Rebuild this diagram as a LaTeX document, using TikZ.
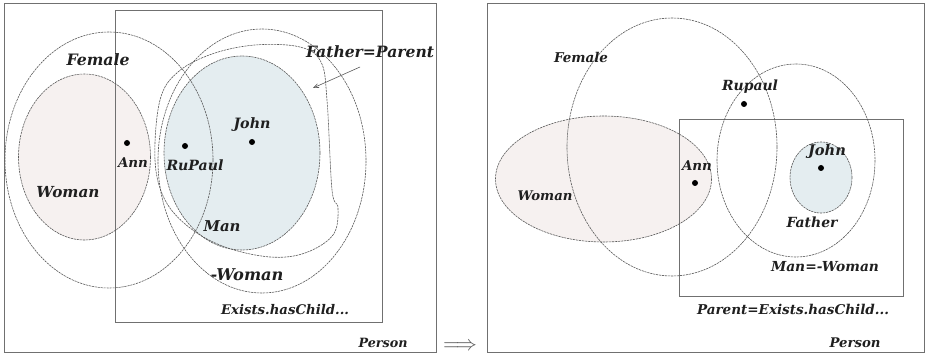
\documentclass[tikz,border=0pt]{standalone}
\usepackage{fontspec}
\setmainfont{DejaVu Serif}
\usetikzlibrary{arrows.meta}
\definecolor{lineg}{HTML}{5A5A5A}
\definecolor{boxg}{HTML}{707070}
\definecolor{pinkf}{HTML}{F6F1F0}
\definecolor{bluef}{HTML}{E4EDF0}
\newcommand\fitw[2]{\resizebox{#1pt}{!}{#2}}
\begin{document}
\begin{tikzpicture}[x=1pt,y=-1pt,
  lbl/.style={font=\fontsize{14}{14}\selectfont\bfseries\itshape, inner sep=0pt, text=black!88},
  setline/.style={draw=lineg, line width=0.6pt, dash pattern=on 2.2pt off 0.8pt},
  boxline/.style={draw=boxg, line width=0.8pt},
  dot/.style={circle, fill=black, inner sep=0pt, minimum size=6pt}]
\useasboundingbox (0,0) rectangle (928,358);

% ---------- left panel ----------
\fill[pinkf] (84.5,157) ellipse [x radius=66, y radius=83];
\fill[bluef] (242,153) ellipse [x radius=78, y radius=97];
\draw[boxline] (4,3) rectangle (436,352);
\draw[boxline] (115,10) rectangle (382,322);
\draw[setline] (109,160) ellipse [x radius=104, y radius=128];
\draw[setline] (84.5,157) ellipse [x radius=66, y radius=83];
\draw[setline] (262,161) ellipse [x radius=104, y radius=132];
\draw[setline] (242,153) ellipse [x radius=78, y radius=97];
\draw[setline] plot[smooth cycle, tension=0.6] coordinates {
  (160,100) (178,72) (212,54) (255,45) (300,47) (321,62) (327,100)
  (332,190) (338,208) (333,235) (305,253) (270,257) (225,247)
  (190,228) (165,200) (155,160)};

\node[dot] (annD) at (127,143) {};
\node[dot] (rpD) at (185,146) {};
\node[dot] (johnD) at (252,142) {};

\node[lbl] (femL) at (98,60) {\fitw{63}{Female}};
\node[lbl] (womL) at (68,192) {\fitw{63}{Woman}};
\node[lbl] (manL) at (222,226) {\fitw{37}{Man}};
\node[lbl] (nwomL) at (247,275) {\fitw{73}{-Woman}};
\node[lbl] (fpL) at (370,52) {\fitw{128}{Father=Parent}};
\node[lbl] (exL) at (285,310) {\fitw{128}{Exists.hasChild...}};
\node[lbl] (perL) at (383,343) {\fitw{49}{Person}};
\node[lbl] (annL) at (133,163) {\fitw{30}{Ann}};
\node[lbl] (rpL) at (195,165) {\fitw{57}{RuPaul}};
\node[lbl] (johnL) at (252,125) {\fitw{37}{John}};

\coordinate (fpA) at (360,67);
\coordinate (fpB) at (313,88);
\draw[lineg, line width=0.6pt, -{Straight Barb[length=5pt,width=4pt]}] (fpA) -- (fpB);

% ---------- implication ----------
\node[text=lineg, inner sep=0pt] (impl) at (460,347) {\fitw{34}{$\Longrightarrow$}};

% ---------- right panel ----------
\fill[pinkf] (603.5,179) ellipse [x radius=108, y radius=63];
\fill[bluef] (821,177.5) ellipse [x radius=31, y radius=35.5];
\draw[boxline] (487,3) rectangle (924,352);
\draw[boxline] (679,119) rectangle (903,296);
\draw[setline] (672,147) ellipse [x radius=105, y radius=129];
\draw[setline] (603.5,179) ellipse [x radius=108, y radius=63];
\draw[setline] (796,160.5) ellipse [x radius=79, y radius=96.5];
\draw[setline] (821,177.5) ellipse [x radius=31, y radius=35.5];

\node[dot] (rupD) at (744,104) {};
\node[dot] (ann2D) at (695,183) {};
\node[dot] (john2D) at (821,168) {};

\node[lbl] (fem2L) at (581,57) {\fitw{54}{Female}};
\node[lbl] (rup2L) at (750,87) {\fitw{56}{Rupaul}};
\node[lbl] (ann2L) at (697,166) {\fitw{30}{Ann}};
\node[lbl] (john2L) at (827,151) {\fitw{38}{John}};
\node[lbl] (wom2L) at (545,196) {\fitw{55}{Woman}};
\node[lbl] (fat2L) at (812,222) {\fitw{51}{Father}};
\node[lbl] (mnw2L) at (825,267) {\fitw{108}{Man=-Woman}};
\node[lbl] (pex2L) at (793,309) {\fitw{192}{Parent=Exists.hasChild...}};
\node[lbl] (per2L) at (855,343) {\fitw{51}{Person}};
\end{tikzpicture}
\end{document}
